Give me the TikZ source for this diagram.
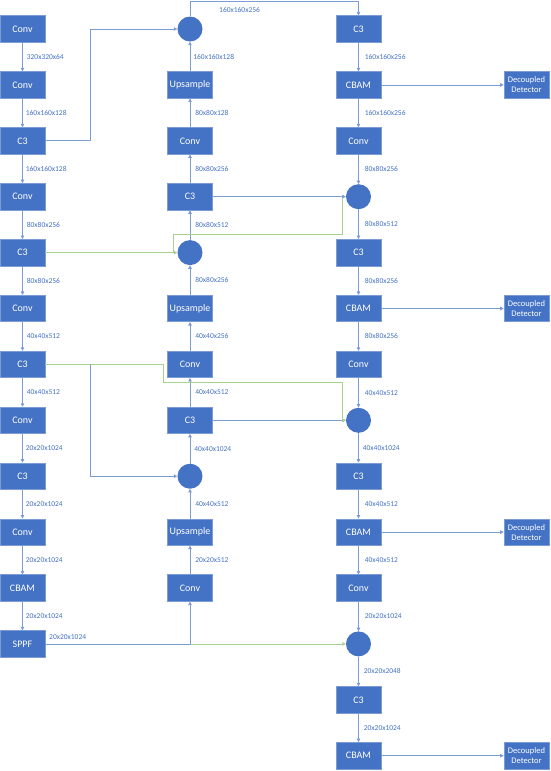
\documentclass[tikz,border=0pt]{standalone}
\usepackage{fontspec}
\setmainfont{Carlito}
\usetikzlibrary{arrows.meta}
\definecolor{boxblue}{HTML}{4472C4}
\definecolor{lineblue}{HTML}{7C9CD6}
\definecolor{lgreen}{HTML}{A9D18E}
\definecolor{txtblue}{HTML}{4472C4}
\begin{document}
\begin{tikzpicture}[x=1pt,y=-1pt,
 blk/.style={rectangle, fill=boxblue, draw=boxblue!70!white, line width=0.6pt, minimum width=45pt, minimum height=26.5pt, inner sep=0pt, text=white, font=\fontsize{10}{12}\selectfont},
 dblk/.style={blk, font=\fontsize{8.5}{10}\selectfont, align=center},
 cat/.style={circle, fill=boxblue, minimum size=25pt, inner sep=0pt},
 lbl/.style={text=txtblue, font=\fontsize{7.5}{9}\selectfont, anchor=west, inner sep=0pt},
 ar/.style={draw=lineblue, line width=0.7pt, -{Triangle[length=3.5pt,width=3.5pt]}},
 gr/.style={draw=lgreen, line width=0.8pt, -{Triangle[length=3.5pt,width=3.5pt]}},
 gl/.style={draw=lgreen, line width=0.8pt},
 bl/.style={draw=lineblue, line width=0.7pt},
]
\useasboundingbox (0,0) rectangle (551,771);
% left column
\node[blk] (L0) at (22.5,29) {Conv};
\node[blk] (L1) at (22.5,84.9) {Conv};
\node[blk] (L2) at (22.5,140.8) {C3};
\node[blk] (L3) at (22.5,196.7) {Conv};
\node[blk] (L4) at (22.5,252.6) {C3};
\node[blk] (L5) at (22.5,308.5) {Conv};
\node[blk] (L6) at (22.5,364.4) {C3};
\node[blk] (L7) at (22.5,420.3) {Conv};
\node[blk] (L8) at (22.5,476.2) {C3};
\node[blk] (L9) at (22.5,532.1) {Conv};
\node[blk] (L10) at (22.5,588) {CBAM};
\node[blk] (L11) at (22.5,643.9) {SPPF};
% middle column
\node[cat] (M0) at (190,29) {};
\node[blk] (M1) at (190,84.9) {Upsample};
\node[blk] (M2) at (190,140.8) {Conv};
\node[blk] (M3) at (190,196.7) {C3};
\node[cat] (M4) at (190,252.6) {};
\node[blk] (M5) at (190,308.5) {Upsample};
\node[blk] (M6) at (190,364.4) {Conv};
\node[blk] (M7) at (190,420.3) {C3};
\node[cat] (M8) at (190,476.2) {};
\node[blk] (M9) at (190,532.1) {Upsample};
\node[blk] (M10) at (190,588) {Conv};
% right column
\node[blk] (R0) at (358.5,29) {C3};
\node[blk] (R1) at (358.5,84.9) {CBAM};
\node[blk] (R2) at (358.5,140.8) {Conv};
\node[cat] (R3) at (358.5,196.7) {};
\node[blk] (R4) at (358.5,252.6) {C3};
\node[blk] (R5) at (358.5,308.5) {CBAM};
\node[blk] (R6) at (358.5,364.4) {Conv};
\node[cat] (R7) at (358.5,420.3) {};
\node[blk] (R8) at (358.5,476.2) {C3};
\node[blk] (R9) at (358.5,532.1) {CBAM};
\node[blk] (R10) at (358.5,588) {Conv};
\node[cat] (R11) at (358.5,643.9) {};
\node[blk] (R12) at (358.5,699.8) {C3};
\node[blk] (R13) at (358.5,755.7) {CBAM};
% detectors
\node[dblk] (D1) at (526.5,84.9) {Decoupled\\Detector};
\node[dblk] (D5) at (526.5,308.5) {Decoupled\\Detector};
\node[dblk] (D9) at (526.5,532.1) {Decoupled\\Detector};
\node[dblk] (D13) at (526.5,755.7) {Decoupled\\Detector};
% left column arrows
\draw[ar] (L0) -- node[lbl,xshift=4pt]{320x320x64} (L1);
\draw[ar] (L1) -- node[lbl,xshift=3pt]{160x160x128} (L2);
\draw[ar] (L2) -- node[lbl,xshift=3pt]{160x160x128} (L3);
\draw[ar] (L3) -- node[lbl,xshift=4pt]{80x80x256} (L4);
\draw[ar] (L4) -- node[lbl,xshift=4pt]{80x80x256} (L5);
\draw[ar] (L5) -- node[lbl,xshift=4pt]{40x40x512} (L6);
\draw[ar] (L6) -- node[lbl,xshift=4pt]{40x40x512} (L7);
\draw[ar] (L7) -- node[lbl,xshift=3pt]{20x20x1024} (L8);
\draw[ar] (L8) -- node[lbl,xshift=3pt]{20x20x1024} (L9);
\draw[ar] (L9) -- node[lbl,xshift=3pt]{20x20x1024} (L10);
\draw[ar] (L10) -- node[lbl,xshift=3pt]{20x20x1024} (L11);
% middle column arrows (upward)
\draw[ar] (M10) -- node[lbl,xshift=5pt]{20x20x512} (M9);
\draw[ar] (M9) -- node[lbl,xshift=5pt]{40x40x512} (M8);
\draw[ar] (M8) -- node[lbl,xshift=4pt]{40x40x1024} (M7);
\draw[ar] (M7) -- node[lbl,xshift=5pt]{40x40x512} (M6);
\draw[ar] (M6) -- node[lbl,xshift=5pt]{40x40x256} (M5);
\draw[ar] (M5) -- node[lbl,xshift=5pt]{80x80x256} (M4);
\draw[ar] (M4) -- node[lbl,xshift=5pt]{80x80x512} (M3);
\draw[ar] (M3) -- node[lbl,xshift=5pt]{80x80x256} (M2);
\draw[ar] (M2) -- node[lbl,xshift=5pt]{80x80x128} (M1);
\draw[ar] (M1) -- node[lbl,xshift=3pt]{160x160x128} (M0);
% right column arrows
\draw[ar] (R0) -- node[lbl,xshift=6pt]{160x160x256} (R1);
\draw[ar] (R1) -- node[lbl,xshift=6pt]{160x160x256} (R2);
\draw[ar] (R2) -- node[lbl,xshift=6pt]{80x80x256} (R3);
\draw[ar] (R3) -- node[lbl,xshift=6pt]{80x80x512} (R4);
\draw[ar] (R4) -- node[lbl,xshift=6pt]{80x80x256} (R5);
\draw[ar] (R5) -- node[lbl,xshift=6pt]{80x80x256} (R6);
\draw[ar] (R6) -- node[lbl,xshift=6pt]{40x40x512} (R7);
\draw[ar] (R7) -- node[lbl,xshift=4pt]{40x40x1024} (R8);
\draw[ar] (R8) -- node[lbl,xshift=6pt]{40x40x512} (R9);
\draw[ar] (R9) -- node[lbl,xshift=6pt]{40x40x512} (R10);
\draw[ar] (R10) -- node[lbl,xshift=6pt]{20x20x1024} (R11);
\draw[ar] (R11) -- node[lbl,xshift=5pt]{20x20x2048} (R12);
\draw[ar] (R12) -- node[lbl,xshift=5pt]{20x20x1024} (R13);
% detectors
\draw[ar] (R1) -- (D1);
\draw[ar] (R5) -- (D5);
\draw[ar] (R9) -- (D9);
\draw[ar] (R13) -- (D13);
% top connection
\coordinate (t1) at (190,1);
\coordinate (t2) at (358.5,1);
\draw[ar] (M0) -- (t1) -- (t2) -- (R0);
\node[lbl] (lt) at (219,10) {160x160x256};
% C3 (L2) to top concat
\coordinate (a1) at (90,140.8);
\coordinate (a2) at (90,29);
\draw[ar] (L2) -- (a1) -- (a2) -- (M0);
% L4 green
\coordinate (g1) at (173,252.6);
\coordinate (g2) at (173,234.5);
\coordinate (g3) at (342,234.5);
\coordinate (g4) at (342,196.7);
\draw[gr] (L4) -- (M4);
\draw[gr] (g1) -- (g2) -- (g3) -- (g4) -- (R3);
% M3, M7 to right concats
\draw[ar] (M3) -- (R3);
\draw[ar] (M7) -- (R7);
% L6 green and blue
\coordinate (h1) at (163,364.4);
\coordinate (h2) at (163,382);
\coordinate (h3) at (342,382);
\coordinate (h4) at (342,420.3);
\draw[gr] (L6) -- (h1) -- (h2) -- (h3) -- (h4) -- (R7);
\coordinate (b1) at (90,364.4);
\coordinate (b2) at (90,476.2);
\draw[ar] (b1) -- (b2) -- (M8);
% SPPF
\coordinate (s1) at (190,643.9);
\draw[gr] (s1) -- (R11);
\draw[ar] (L11) -- (s1) -- (M10);
\node[lbl] (ls) at (49,637) {20x20x1024};
\end{tikzpicture}
\end{document}
